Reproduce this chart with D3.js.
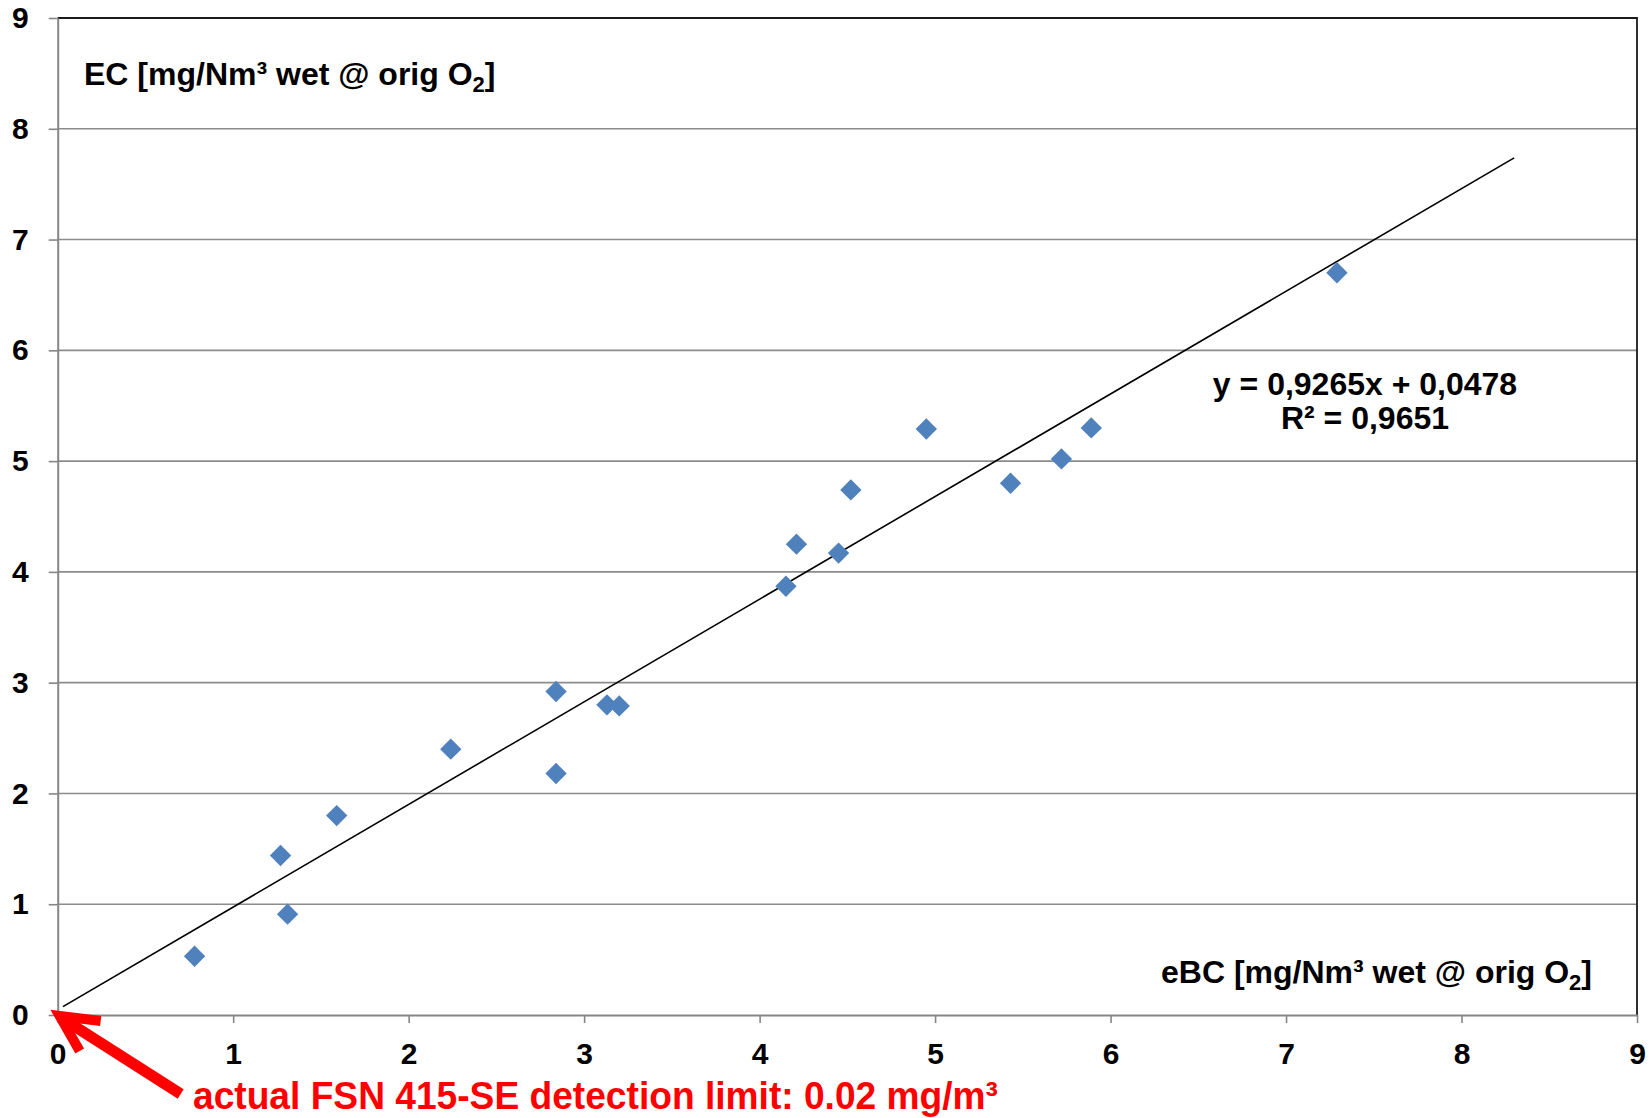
<!DOCTYPE html>
<html>
<head>
<meta charset="utf-8">
<script src="https://cdn.jsdelivr.net/npm/d3@7"></script>
<style>
  html, body { margin: 0; padding: 0; background: #ffffff; }
  svg { display: block; }
  text { font-family: "Liberation Sans", Arial, sans-serif; font-weight: bold; }
</style>
</head>
<body>
<svg id="chart" width="1651" height="1118"></svg>
<script>
// ---- data ----
const eBC = [0.78, 1.27, 1.31, 1.59, 2.24, 2.84, 2.84, 3.13, 3.20, 4.15, 4.21, 4.45, 4.52, 4.95, 5.43, 5.72, 5.89, 7.29];
const EC  = [0.53, 1.44, 0.91, 1.80, 2.40, 2.92, 2.18, 2.80, 2.79, 3.87, 4.25, 4.17, 4.74, 5.29, 4.80, 5.02, 5.30, 6.70];
const xTicks = [0, 1, 2, 3, 4, 5, 6, 7, 8, 9];
const yTicks = [0, 1, 2, 3, 4, 5, 6, 7, 8, 9];
const trendSlope = 0.9265;
const trendIntercept = 0.0478;
const trendRange = [0.03, 8.3];
const equationLines = ["y = 0,9265x + 0,0478", "R² = 0,9651"];
const yTitle = "EC [mg/Nm³ wet @ orig O";
const xTitle = "eBC [mg/Nm³ wet @ orig O";
const noteText = "actual FSN 415-SE detection limit: 0.02 mg/m³";

// ---- layout ----
const svg = d3.select("#chart");
const L = 57.7, R = 1637, T = 18, B = 1015;
const x = d3.scaleLinear().domain([0, 9]).range([L, R]);
const y = d3.scaleLinear().domain([0, 9]).range([B, T]);

// gridlines
svg.append("g").selectAll("line").data(yTicks.filter(d => d > 0 && d < 9)).join("line")
  .attr("x1", L).attr("x2", R)
  .attr("y1", d => y(d)).attr("y2", d => y(d))
  .attr("stroke", "#8c8c8c").attr("stroke-width", 1.6);

// top / right border
svg.append("path")
  .attr("d", `M${L},${T} L${R},${T} L${R},${B}`)
  .attr("fill", "none").attr("stroke", "#1a1a1a").attr("stroke-width", 1.8);

// axes
const gx = svg.append("g").attr("transform", `translate(0,${B})`)
  .call(d3.axisBottom(x).tickValues(xTicks).tickFormat(d3.format("d")).tickSize(8).tickPadding(20).tickSizeOuter(0));
const gy = svg.append("g").attr("transform", `translate(${L},0)`)
  .call(d3.axisLeft(y).tickValues(yTicks).tickFormat(d3.format("d")).tickSize(9).tickPadding(20).tickSizeOuter(0));
[gx, gy].forEach(g => {
  g.select(".domain").attr("stroke", "#868686").attr("stroke-width", 2);
  g.selectAll(".tick line").attr("stroke", "#868686").attr("stroke-width", 1.6);
  g.selectAll(".tick text").attr("fill", "#000").style("font-size", "30px")
    .style("font-family", "'Liberation Sans', Arial, sans-serif").style("font-weight", "bold");
});

// trendline
svg.append("line")
  .attr("x1", x(trendRange[0])).attr("y1", y(trendSlope * trendRange[0] + trendIntercept))
  .attr("x2", x(trendRange[1])).attr("y2", y(trendSlope * trendRange[1] + trendIntercept))
  .attr("stroke", "#000").attr("stroke-width", 1.6);

// points (diamonds)
const pts = eBC.map((v, i) => ({ x: v, y: EC[i] }));
svg.append("g").selectAll("path").data(pts).join("path")
  .attr("transform", d => `translate(${x(d.x)},${y(d.y)})`)
  .attr("d", d3.symbol().type(d3.symbolDiamond2).size(290))
  .attr("fill", "#4F81BD");

// axis titles
function titleWithSub(str, xx, yy, anchor) {
  const t = svg.append("text").attr("x", xx).attr("y", yy).attr("text-anchor", anchor)
    .style("font-size", "32px").attr("fill", "#000");
  t.append("tspan").text(str);
  t.append("tspan").attr("dy", 7).style("font-size", "22px").text("2");
  t.append("tspan").attr("dy", -7).text("]");
  return t;
}
titleWithSub(yTitle, 84, 85, "start");
titleWithSub(xTitle, 1592, 983, "end");

// equation
equationLines.forEach((s, i) => {
  svg.append("text").attr("x", 1365).attr("y", 395 + i * 34).attr("text-anchor", "middle")
    .style("font-size", "32px").attr("fill", "#000").text(s);
});

// red arrow pointing at origin
const ox = x(0), oy = y(0);
svg.append("path")
  .attr("d", `M${ox + 123},${oy + 79} L${ox + 4},${oy + 3}`)
  .attr("stroke", "#ff0000").attr("stroke-width", 11).attr("fill", "none");
svg.append("path")
  .attr("d", `M${ox + 43},${oy + 6} L${ox + 2},${oy + 1} L${ox + 22},${oy + 36}`)
  .attr("stroke", "#ff0000").attr("stroke-width", 10).attr("fill", "none")
  .attr("stroke-linejoin", "miter").attr("stroke-miterlimit", 10);

svg.append("text").attr("x", 193).attr("y", 1109)
  .attr("textLength", 805).attr("lengthAdjust", "spacingAndGlyphs")
  .style("font-size", "38px").attr("fill", "#ff0000").text(noteText);
</script>
</body>
</html>
